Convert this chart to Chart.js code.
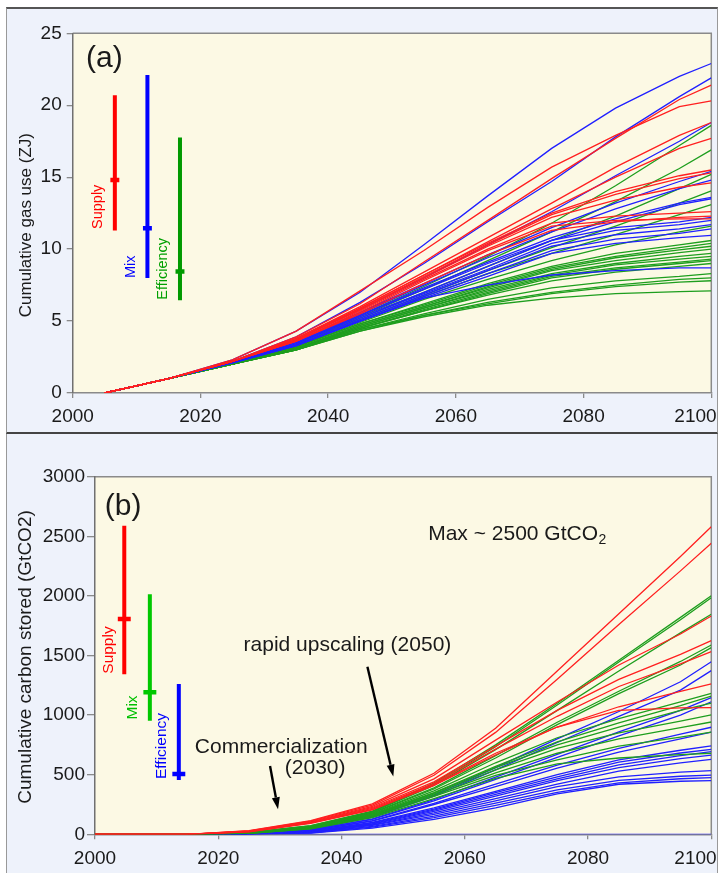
<!DOCTYPE html>
<html><head><meta charset="utf-8">
<script src="https://cdn.jsdelivr.net/npm/chart.js@4.4.1/dist/chart.umd.min.js"></script>
<style>
html,body{margin:0;padding:0;background:#ffffff;width:719px;height:873px;overflow:hidden;}
.panel{position:absolute;background:#eef2fb;box-sizing:border-box;}
#pa{left:6px;top:7px;width:712px;height:427px;border-top:2px solid #555;border-left:1px solid #999;border-right:1px solid #999;border-bottom:2px solid #444;}
#pb{left:6px;top:434px;width:712px;height:445px;border-left:1px solid #999;border-right:1px solid #999;}
canvas{position:absolute;}
#ca{left:7px;top:9px;}
#cb{left:7px;top:436px;}
</style></head>
<body>
<div class="panel" id="pa"></div>
<div class="panel" id="pb"></div>
<canvas id="ca" width="710" height="424"></canvas>
<canvas id="cb" width="710" height="437"></canvas>
<script>
// ---------- DATA: panel (a) cumulative gas use (ZJ) ----------
const YEARS_A = [2005,2015,2025,2035,2045,2055,2065,2075,2085,2095,2100];
const X_TICKS = [2000,2020,2040,2060,2080,2100];
const Y_TICKS_A = [0,5,10,15,20,25];
const SUPPLY_GAS = [
  [0,1.0,2.3,4.3,7.1,9.9,12.9,15.7,17.9,19.9,20.3],
  [0,1.0,2.2,3.9,6.2,9.1,12.0,14.9,17.7,20.4,21.4],
  [0,1.0,2.2,3.8,6.0,8.4,10.8,13.2,15.7,17.9,18.8],
  [0,1.0,2.2,3.8,5.9,8.2,10.5,12.8,15.0,17.0,17.7],
  [0,1.0,2.2,3.7,5.9,8.2,10.4,12.5,14.0,15.1,15.5],
  [0,1.0,2.2,3.7,5.8,8.1,10.3,12.4,13.8,14.9,15.3],
  [0,1.0,2.2,3.7,5.8,8.0,10.2,12.2,13.4,14.3,14.6],
  [0,1.0,2.2,3.6,5.7,7.9,10.0,11.8,12.3,12.5,12.6],
  [0,1.0,2.2,3.6,5.6,7.8,9.9,11.6,12.0,12.1,12.1],
  [0,1.0,2.2,3.6,5.5,7.6,9.6,11.3,11.9,12.2,12.3]
];
const MIX_GAS = [
  [0,1.0,2.3,4.3,7.0,10.3,13.7,17.0,19.8,22.0,22.9],
  [0,1.0,2.2,3.9,6.3,9.0,11.9,14.7,17.8,20.6,21.9],
  [0,1.0,2.2,3.7,5.8,8.0,10.3,12.6,15.1,17.5,18.8],
  [0,1.0,2.2,3.6,5.6,7.6,9.6,11.5,13.2,14.7,15.4],
  [0,1.0,2.2,3.5,5.5,7.5,9.4,11.2,12.8,14.2,14.8],
  [0,1.0,2.2,3.5,5.4,7.3,9.1,10.8,12.1,13.2,13.6],
  [0,1.0,2.2,3.5,5.4,7.2,9.0,10.6,11.9,13.1,13.5],
  [0,1.0,2.2,3.4,5.3,7.0,8.8,10.6,11.5,11.9,12.2],
  [0,1.0,2.2,3.4,5.2,6.9,8.6,10.4,11.3,11.7,12.0],
  [0,1.0,2.2,3.3,5.1,6.8,8.5,10.2,11.0,11.4,11.7],
  [0,1.0,2.1,3.3,5.0,6.7,8.3,9.9,10.7,11.1,11.4],
  [0,1.0,2.1,3.3,5.0,6.6,8.1,9.7,10.4,10.8,10.95],
  [0,1.0,2.1,3.3,5.0,6.6,7.5,8.2,8.5,8.7,8.7]
];
const EFFICIENCY_GAS = [
  [0,1.0,2.1,3.4,5.4,7.4,9.5,11.8,14.4,17.2,18.6],
  [0,1.0,2.1,3.4,5.3,7.2,9.2,11.2,13.3,15.6,16.9],
  [0,1.0,2.1,3.3,5.2,7.0,8.8,10.6,12.3,14.2,15.2],
  [0,1.0,2.1,3.3,5.1,6.8,8.5,10.1,11.6,13.2,14.05],
  [0,1.0,2.1,3.3,5.0,6.7,8.3,9.7,11.0,12.4,13.1],
  [0,1.0,2.1,3.2,4.9,6.5,7.9,9.2,10.3,11.2,11.6],
  [0,1.0,2.1,3.2,4.8,6.2,7.6,8.8,9.7,10.3,10.6],
  [0,1.0,2.1,3.2,4.8,6.1,7.5,8.7,9.5,10.1,10.4],
  [0,1.0,2.0,3.1,4.7,6.0,7.4,8.6,9.4,9.95,10.2],
  [0,1.0,2.0,3.1,4.7,6.0,7.3,8.5,9.2,9.75,10.0],
  [0,1.0,2.0,3.1,4.6,5.9,7.2,8.3,9.0,9.5,9.7],
  [0,1.0,2.0,3.1,4.6,5.9,7.1,8.2,8.9,9.3,9.5],
  [0,1.0,2.0,3.1,4.5,5.8,7.0,8.1,8.7,9.1,9.3],
  [0,1.0,2.0,3.0,4.5,5.7,6.9,8.0,8.6,9.0,9.2],
  [0,1.0,2.0,3.1,4.5,5.7,6.8,7.8,8.4,8.8,9.0],
  [0,1.0,2.0,3.0,4.4,5.5,6.5,7.3,7.8,8.1,8.3],
  [0,1.0,2.0,3.0,4.4,5.4,6.3,7.0,7.5,7.9,8.0],
  [0,1.0,2.0,3.0,4.3,5.4,6.2,6.9,7.4,7.7,7.8],
  [0,1.0,2.0,3.0,4.3,5.3,6.1,6.6,6.9,7.05,7.1]
];
// range bars [low, median, high]
const RANGE_A_SUPPLY = [11.3, 14.8, 20.7];
const RANGE_A_MIX = [8.0, 11.45, 22.1];
const RANGE_A_EFFICIENCY = [6.45, 8.45, 17.75];

// ---------- DATA: panel (b) cumulative carbon stored (GtCO2) ----------
const YEARS_B = [2000,2015,2025,2035,2045,2055,2065,2075,2085,2095,2100];
const Y_TICKS_B = [0,500,1000,1500,2000,2500,3000];
const SUPPLY_CCS = [
  [0,0,30,115,255,512,890,1370,1850,2330,2580],
  [0,0,28,110,245,495,855,1300,1760,2210,2441],
  [0,0,26,105,235,465,790,1110,1420,1680,1831],
  [0,0,25,100,225,440,740,1040,1300,1510,1624],
  [0,0,24,98,218,425,715,990,1240,1430,1532],
  [0,0,22,95,210,415,680,900,1070,1200,1261],
  [0,0,20,92,205,410,665,900,1040,1060,1062]
];
const MIX_CCS = [
  [0,0,15,72,195,430,750,1100,1460,1820,2002],
  [0,0,15,70,190,420,735,1085,1445,1800,1985],
  [0,0,14,66,185,410,710,1040,1370,1690,1846],
  [0,0,12,64,180,390,660,940,1200,1450,1588],
  [0,0,12,62,175,380,640,920,1180,1420,1566],
  [0,0,11,60,170,365,600,810,970,1110,1183],
  [0,0,10,57,165,350,570,775,935,1080,1160],
  [0,0,10,56,160,345,560,750,900,1040,1100],
  [0,0,10,55,158,338,540,720,850,950,1001],
  [0,0,8,50,152,328,515,680,800,895,942],
  [0,0,8,48,148,318,495,625,740,815,858],
  [0,0,8,45,140,300,470,590,640,668,680]
];
const EFFICIENCY_CCS = [
  [0,0,8,40,150,330,560,800,1030,1280,1448],
  [0,0,8,40,145,320,540,770,990,1210,1373],
  [0,0,6,35,130,290,480,670,860,1040,1146],
  [0,0,6,35,125,280,460,645,825,1000,1112],
  [0,0,5,30,115,260,420,580,720,840,898],
  [0,0,5,30,110,250,400,555,690,800,858],
  [0,0,4,26,100,222,360,500,625,705,741],
  [0,0,4,25,95,212,350,482,605,682,713],
  [0,0,4,22,90,202,335,465,582,660,693],
  [0,0,3,22,85,192,320,450,560,635,665],
  [0,0,3,20,80,180,300,420,530,600,629],
  [0,0,3,18,75,168,280,400,482,522,534],
  [0,0,2,15,66,152,262,372,452,487,497],
  [0,0,2,12,60,140,242,352,432,466,475],
  [0,0,2,10,52,126,222,340,420,445,450],
  [0,0,0,0,0,0,0,0,0,0,0]
];
const RANGE_B_SUPPLY = [1342, 1806, 2589];
const RANGE_B_MIX = [953, 1191, 2013];
const RANGE_B_EFFICIENCY = [455, 506, 1261];

// ---------- STYLE / LAYOUT ----------
const FONT = "'Liberation Sans', Arial, sans-serif";
const RED = '#ff2020', BLUE = '#2020ff', GREEN = '#1e9e1e';
const PLOT_BG = '#fcf9e4';
const AXIS_COL = '#8a8a8a';
const TEXT_COL = '#1a1a1a';

function lineSets(years, groups) {
  const out = [];
  groups.forEach(([rows, color]) => rows.forEach(r => out.push({
    data: r.map((v, i) => ({x: years[i], y: v})),
    borderColor: color, borderWidth: 1.3, pointRadius: 0, fill: false, tension: 0
  })));
  return out;
}
// vertical range bar + horizontal median crossbar (half width given in years)
function rangeSets(x, range, color, halfW) {
  return [
    {data: [{x: x, y: range[0]}, {x: x, y: range[2]}], borderColor: color, borderWidth: 4, pointRadius: 0, borderCapStyle: 'butt'},
    {data: [{x: x - halfW, y: range[1]}, {x: x + halfW, y: range[1]}], borderColor: color, borderWidth: 4.5, pointRadius: 0, borderCapStyle: 'butt'}
  ];
}

function textAt(chart, txt, xv, yv, size, color, align, rot) {
  const ctx = chart.ctx;
  const x = chart.scales.x.getPixelForValue(xv), y = chart.scales.y.getPixelForValue(yv);
  ctx.save(); ctx.translate(x, y); if (rot) ctx.rotate(rot);
  ctx.font = size + 'px ' + FONT; ctx.fillStyle = color; ctx.textAlign = align || 'left'; ctx.textBaseline = 'middle';
  ctx.fillText(txt, 0, 0); ctx.restore();
}
function arrowAt(chart, p1, p2) {
  const ctx = chart.ctx, sx = chart.scales.x, sy = chart.scales.y;
  const x1 = sx.getPixelForValue(p1[0]), y1 = sy.getPixelForValue(p1[1]);
  const x2 = sx.getPixelForValue(p2[0]), y2 = sy.getPixelForValue(p2[1]);
  const a = Math.atan2(y2 - y1, x2 - x1), hl = 12, hw = 8;
  const bx = x2 - hl * Math.cos(a), by = y2 - hl * Math.sin(a);
  ctx.save(); ctx.strokeStyle = '#000'; ctx.fillStyle = '#000'; ctx.lineWidth = 2.4;
  ctx.beginPath(); ctx.moveTo(x1, y1); ctx.lineTo(bx, by); ctx.stroke();
  ctx.beginPath(); ctx.moveTo(x2, y2);
  ctx.lineTo(bx + hw / 2 * Math.sin(a), by - hw / 2 * Math.cos(a));
  ctx.lineTo(bx - hw / 2 * Math.sin(a), by + hw / 2 * Math.cos(a));
  ctx.closePath(); ctx.fill(); ctx.restore();
}

const framePlugin = {
  id: 'frame',
  beforeDraw(chart) {
    const {ctx, chartArea: a} = chart;
    ctx.save(); ctx.fillStyle = PLOT_BG; ctx.fillRect(a.left, a.top, a.right - a.left, a.bottom - a.top);
    ctx.strokeStyle = AXIS_COL; ctx.lineWidth = 1.5;
    ctx.beginPath(); ctx.moveTo(a.left, a.top); ctx.lineTo(a.right, a.top); ctx.lineTo(a.right, a.bottom); ctx.stroke();
    ctx.restore();
  },
  afterDraw(chart) {
    const o = chart.options.plugins.frame, ctx = chart.ctx, a = chart.chartArea;
    ctx.save(); ctx.translate(a.left + o.titleDx, (a.top + a.bottom) / 2 + o.titleDy); ctx.rotate(-Math.PI / 2);
    ctx.font = o.titleSize + 'px ' + FONT; ctx.fillStyle = TEXT_COL; ctx.textAlign = 'center'; ctx.textBaseline = 'middle';
    ctx.fillText(o.title, 0, 0); ctx.restore();
    o.texts.forEach(t => textAt(chart, t.text, t.x, t.y, t.size, t.color || TEXT_COL, t.align, t.rot));
    (o.arrows || []).forEach(ar => arrowAt(chart, ar[0], ar[1]));
    if (o.sub) {
      ctx.save(); ctx.font = o.sub.size + 'px ' + FONT;
      const x = chart.scales.x.getPixelForValue(o.sub.x), y = chart.scales.y.getPixelForValue(o.sub.y);
      const w = ctx.measureText(o.sub.text).width;
      ctx.fillStyle = TEXT_COL; ctx.textBaseline = 'middle'; ctx.textAlign = 'left';
      ctx.fillText(o.sub.text, x, y);
      ctx.font = o.sub.subSize + 'px ' + FONT; ctx.fillText(o.sub.subText, x + w + 0.5, y + 6);
      ctx.restore();
    }
  }
};

function axes(yMin, yMax, yStep, yWidth, xHeight, yTickLen, yPad, xPad) {
  return {
    x: {
      type: 'linear', min: 2000, max: 2100,
      afterBuildTicks: s => { s.ticks = X_TICKS.map(v => ({value: v})); },
      ticks: {font: {size: 19, family: FONT}, color: TEXT_COL, padding: xPad, maxRotation: 0,
        callback: v => v === 2100 ? '2100      ' : String(v)},
      grid: {drawOnChartArea: false, drawTicks: true, tickLength: 5, color: AXIS_COL, lineWidth: 1.3},
      border: {display: true, color: AXIS_COL, width: 1.5},
      afterFit: s => { s.height = xHeight; s.paddingLeft = 0; s.paddingRight = 0; }
    },
    y: {
      type: 'linear', min: yMin, max: yMax,
      ticks: {stepSize: yStep, font: {size: 19, family: FONT}, color: TEXT_COL, padding: yPad, callback: v => String(v)},
      grid: {drawOnChartArea: false, drawTicks: true, tickLength: yTickLen, color: AXIS_COL, lineWidth: 1.3},
      border: {display: true, color: '#707070', width: 1.5},
      afterFit: s => { s.width = yWidth; s.paddingTop = 0; s.paddingBottom = 0; }
    }
  };
}

// ---------- Chart (a) ----------
new Chart(document.getElementById('ca'), {
  type: 'line',
  data: {datasets: [
    ...rangeSets(2006.6, RANGE_A_SUPPLY, '#ff0000', 0.7),
    ...rangeSets(2011.7, RANGE_A_MIX, '#0000ff', 0.7),
    ...rangeSets(2016.8, RANGE_A_EFFICIENCY, '#009a00', 0.7),
    ...lineSets(YEARS_A, [[SUPPLY_GAS, RED], [MIX_GAS, BLUE], [EFFICIENCY_GAS, GREEN]])
  ]},
  options: {
    responsive: false, animation: false, events: [],
    layout: {padding: {left: 0, right: 5.7, top: 24.3, bottom: 0}},
    plugins: {legend: {display: false}, tooltip: {enabled: false},
      frame: {title: 'Cumulative gas use (ZJ)', titleSize: 17, titleDx: -46, titleDy: 12,
        texts: [
          {text: '(a)', x: 2002.1, y: 23.2, size: 30},
          {text: 'Supply', x: 2003.9, y: 12.94, size: 14.5, color: '#ff0000', align: 'center', rot: -Math.PI / 2},
          {text: 'Mix', x: 2009.1, y: 8.77, size: 14.5, color: '#0000ff', align: 'center', rot: -Math.PI / 2},
          {text: 'Efficiency', x: 2014.2, y: 8.63, size: 14.5, color: '#00a000', align: 'center', rot: -Math.PI / 2}
        ]}
    },
    scales: axes(0, 25, 5, 65.7, 40, 6, 5, 7)
  },
  plugins: [framePlugin]
});

// ---------- Chart (b) ----------
new Chart(document.getElementById('cb'), {
  type: 'line',
  data: {datasets: [
    ...rangeSets(2004.75, RANGE_B_SUPPLY, '#ff0000', 1.05),
    ...rangeSets(2008.9, RANGE_B_MIX, '#00c800', 1.05),
    ...rangeSets(2013.6, RANGE_B_EFFICIENCY, '#0000ff', 1.05),
    ...lineSets(YEARS_B, [[SUPPLY_CCS, RED], [MIX_CCS, GREEN], [EFFICIENCY_CCS, BLUE]])
  ]},
  options: {
    responsive: false, animation: false, events: [],
    layout: {padding: {left: 0, right: 5.7, top: 40.7, bottom: 0}},
    plugins: {legend: {display: false}, tooltip: {enabled: false},
      frame: {title: 'Cumulative carbon stored (GtCO2)', titleSize: 19, titleDx: -69, titleDy: 1.5,
        texts: [
          {text: '(b)', x: 2001.6, y: 2745, size: 30},
          {text: 'Supply', x: 2002.2, y: 1546, size: 15.5, color: '#ff0000', align: 'center', rot: -Math.PI / 2},
          {text: 'Mix', x: 2006.2, y: 1064, size: 15.5, color: '#00c000', align: 'center', rot: -Math.PI / 2},
          {text: 'Efficiency', x: 2010.9, y: 741, size: 15.5, color: '#0000ff', align: 'center', rot: -Math.PI / 2},
          {text: 'rapid upscaling (2050)', x: 2024.1, y: 1588, size: 21},
          {text: 'Commercialization', x: 2016.2, y: 728, size: 21},
          {text: '(2030)', x: 2030.8, y: 556, size: 21}
        ],
        arrows: [[[2028.4, 573], [2029.7, 210]], [[2044.2, 1406], [2048.4, 485]]],
        sub: {text: 'Max ~ 2500 GtCO', subText: '2', x: 2054.06, y: 2519, size: 21, subSize: 14}
      }
    },
    scales: axes(0, 3000, 500, 88, 38.7, 8, 2, 8)
  },
  plugins: [framePlugin]
});
</script>
</body></html>
